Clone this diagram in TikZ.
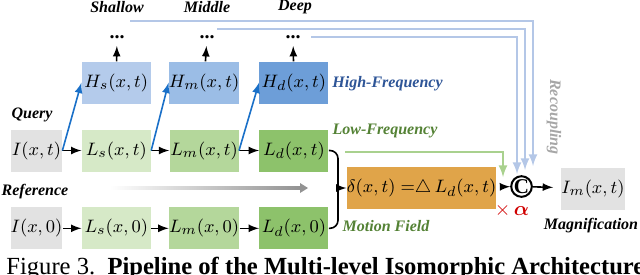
\documentclass[tikz,border=0pt]{standalone}
\usepackage{amsmath}
\usepackage{fontspec}
\setmainfont{Liberation Serif}
\usepackage{tikz}
\usetikzlibrary{arrows,positioning,calc}

\definecolor{igray}{HTML}{E2E2E2}
\definecolor{lsgreen}{HTML}{D6E9C7}
\definecolor{lmgreen}{HTML}{B4D79B}
\definecolor{ldgreen}{HTML}{8DC26B}
\definecolor{hsblue}{HTML}{B4CBEB}
\definecolor{hmblue}{HTML}{9BBDE6}
\definecolor{hdblue}{HTML}{6D9ED8}
\definecolor{mforange}{HTML}{E0A449}
\definecolor{arrblue}{HTML}{1A70C8}
\definecolor{hftext}{HTML}{2E5597}
\definecolor{lftext}{HTML}{548235}
\definecolor{lfline}{HTML}{A9D18E}
\definecolor{rcline}{HTML}{B4C7E7}
\definecolor{rctext}{HTML}{A6A6A6}
\definecolor{alphared}{HTML}{D00000}

\begin{document}
\begin{tikzpicture}[
    x=0.5pt, y=-0.5pt, >=latex,
    ibox/.style={rectangle, fill=igray, minimum width=25.5pt, minimum height=21pt, inner sep=0pt, font=\fontsize{9.5}{11}\selectfont},
    lbox/.style={rectangle, minimum width=34.5pt, minimum height=21pt, inner sep=0pt, font=\fontsize{9.5}{11}\selectfont},
    mfbox/.style={rectangle, fill=mforange, minimum width=71.5pt, minimum height=21pt, inner sep=0pt, font=\fontsize{9.5}{11}\selectfont},
    lbl/.style={font=\fontsize{8}{9}\selectfont\bfseries\itshape, inner sep=0pt},
    flow/.style={->, thick},
    hflow/.style={->, thick, arrblue},
    recoup/.style={->, line width=1pt, rcline}
]
    \useasboundingbox (0,0) rectangle (640,274);

    % query row
    \node[ibox] (Iq) at (36.5,150.5) {$I(x,t)$};
    \node[lbox, fill=lsgreen, right=9.5pt of Iq] (Ls) {$L_s(x,t)$};
    \node[lbox, fill=lmgreen, right=9pt of Ls] (Lm) {$L_m(x,t)$};
    \node[lbox, fill=ldgreen, right=10pt of Lm] (Ld) {$L_d(x,t)$};

    % high-frequency row
    \node[lbox, fill=hsblue, above=12.5pt of Ls] (Hs) {$H_s(x,t)$};
    \node[lbox, fill=hmblue, above=12.5pt of Lm] (Hm) {$H_m(x,t)$};
    \node[lbox, fill=hdblue, above=12.5pt of Ld] (Hd) {$H_d(x,t)$};

    \node[inner sep=2pt, font=\bfseries] (ds) at (117,37) {...};
    \node[inner sep=2pt, font=\bfseries] (dm) at (207,37) {...};
    \node[inner sep=2pt, font=\bfseries] (dd) at (293,37) {...};

    % reference row
    \node[ibox, below=17.5pt of Iq] (Ir) {$I(x,0)$};
    \node[lbox, fill=lsgreen, below=17.5pt of Ls] (Lsr) {$L_s(x,0)$};
    \node[lbox, fill=lmgreen, below=17.5pt of Lm] (Lmr) {$L_m(x,0)$};
    \node[lbox, fill=ldgreen, below=17.5pt of Ld] (Ldr) {$L_d(x,0)$};

    % motion field and output
    \node[mfbox] (mf) at (421.5,188) {$\delta(x,t)\;{=}\triangle\, L_d(x,t)$};
    \node[circle, draw, line width=1pt, inner sep=0pt, minimum size=9pt, font=\fontsize{10.5}{11}\selectfont\bfseries] (cc) at (521.5,186.5) {C};
    \node[ibox, minimum width=31.5pt] (Im) at (593,188.5) {$I_m(x,t)$};
    \node[alphared, inner sep=0pt, font=\fontsize{10}{11}\selectfont] (ma) at (512,210) {$\times\,\boldsymbol{\alpha}$};

    % labels
    \node[lbl] (tsh) at (117,7) {Shallow};
    \node[lbl] (tmi) at (207,7) {Middle};
    \node[lbl] (tde) at (295,7) {Deep};
    \node[lbl] (tq) at (32,115) {Query};
    \node[lbl] (tr) at (35,192) {Reference};
    \node[lbl, hftext, anchor=west] (thf) at (332,84) {High-Frequency};
    \node[lbl, lftext] (tlf) at (385,131) {Low-Frequency};
    \node[lbl, lftext] (tmf) at (386,226) {Motion Field};
    \node[lbl] (tmg) at (591,226) {Magnification};
    \node[lbl, rctext, rotate=-90] (trc) at (554,117) {Recoupling};

    % arrows along the rows
    \draw[flow] (Iq) -- (Ls);
    \draw[flow] (Ls) -- (Lm);
    \draw[flow] (Lm) -- (Ld);
    \draw[flow] (Ir) -- (Lsr);
    \draw[flow] (Lsr) -- (Lmr);
    \draw[flow] (Lmr) -- (Ldr);

    \draw[hflow] (Iq.east) -- (Hs.west);
    \draw[hflow] (Ls.east) -- (Hm.west);
    \draw[hflow] (Lm.east) -- (Hd.west);

    \draw[flow, shorten >=1.5pt] (Hs) -- (ds);
    \draw[flow, shorten >=1.5pt] (Hm) -- (dm);
    \draw[flow, shorten >=1.5pt] (Hd) -- (dd);

    % gray progress arrow
    \coordinate (ga) at (110,188);
    \coordinate (gb) at (300,188);
    \coordinate (gc) at (308,188);
    \shade[left color=white, right color=gray!85] ($(ga)+(0,-1.5)$) rectangle ($(gb)+(0,1.5)$);
    \fill[gray!85] ($(gb)+(0,-5)$) -- (gc) -- ($(gb)+(0,5)$) -- cycle;

    % bracket into the motion field
    \coordinate (brk) at (338,188);
    \draw[thick, rounded corners=4pt] (Ld.east) -| (brk) |- (Ldr.east);
    \draw[flow] (brk) -- (mf);

    % low-frequency path
    \coordinate (lf0) at (345,152);
    \coordinate (lf1) at (503,177);
    \draw[->, line width=1pt, lfline] (lf0) -| (lf1);

    % recoupling paths
    \coordinate (r1) at (130,21);
    \coordinate (r2) at (217,29);
    \coordinate (r3) at (311,37);
    \coordinate (e1) at (533,166);
    \coordinate (e2) at (525,170);
    \coordinate (e3) at (517,174);
    \draw[recoup] (r1) -| (e1);
    \draw[recoup] (r2) -| (e2);
    \draw[recoup] (r3) -| (e3);

    \draw[flow, shorten <=2pt] (mf) -- (cc);
    \draw[flow, shorten >=4pt] (cc) -- (Im);

    % caption
    \node[anchor=base west, inner sep=0pt, font=\fontsize{12.3}{14}\selectfont] (cap) at (6,274) {Figure 3.\ \ \textbf{Pipeline of the Multi-level Isomorphic Architecture}};
\end{tikzpicture}
\end{document}
